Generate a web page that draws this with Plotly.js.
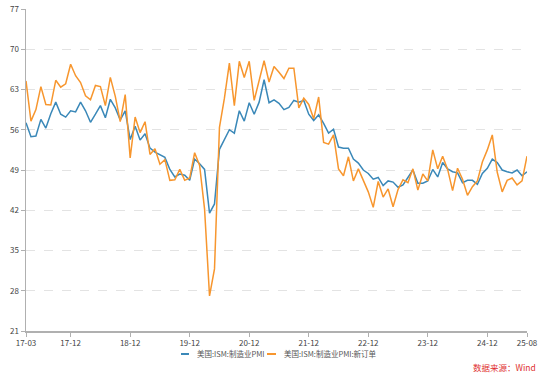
<!DOCTYPE html>
<html>
<head>
<meta charset="utf-8">
<script src="https://cdn.plot.ly/plotly-3.0.1.min.js"></script>
<style>html,body{margin:0;padding:0;background:#fff;}#chart{width:553px;height:379px;}</style>
</head>
<body>
<div id="chart"></div>
<script>
// Months 2017-03 .. 2025-08
const months = [];
for (let y = 17; y <= 25; y++) {
  for (let m = 1; m <= 12; m++) {
    if (y === 17 && m < 3) continue;
    if (y === 25 && m > 8) continue;
    months.push(y + '-' + (m < 10 ? '0' + m : '' + m));
  }
}
const tickLabels = ['17-03','17-12','18-12','19-12','20-12','21-12','22-12','23-12','24-12','25-08'];
const yTicks = [21, 28, 35, 42, 49, 56, 63, 70, 77];

const pmi = [
  57.2,54.8,54.9,57.8,56.3,58.8,60.8,58.7,58.2,59.3,
  59.1,60.8,59.3,57.3,58.7,60.2,58.1,61.3,59.8,57.7,59.3,54.3,
  56.6,54.2,55.3,52.8,52.1,51.7,51.2,49.1,47.8,48.3,48.1,47.2,
  50.9,50.1,49.1,41.5,43.1,52.6,54.2,56.0,55.4,59.3,57.5,60.7,
  58.7,60.8,64.7,60.7,61.2,60.6,59.5,59.9,61.1,60.8,61.1,58.7,
  57.6,58.6,57.1,55.4,56.1,53.0,52.8,52.8,50.9,50.2,49.0,48.4,
  47.4,47.7,46.3,47.1,46.9,46.0,46.4,47.6,49.0,46.7,46.7,47.1,
  49.1,47.8,50.3,49.2,48.7,48.5,46.8,47.2,47.2,46.5,48.4,49.3,
  50.9,50.3,49.0,48.7,48.5,49.0,48.0,48.7
];
const newOrders = [
  64.5,57.5,59.5,63.5,60.4,60.3,64.6,63.4,64.0,67.4,
  65.4,64.2,61.9,61.2,63.7,63.5,60.2,65.1,61.8,57.4,62.1,51.1,
  58.2,55.5,57.4,51.7,52.7,50.0,50.8,47.2,47.3,49.1,47.2,47.6,
  52.0,49.8,42.2,27.1,31.8,56.4,61.5,67.6,60.2,67.9,65.1,67.9,
  61.1,64.8,68.0,64.3,67.0,66.0,64.9,66.7,66.7,59.8,61.5,60.4,
  57.9,61.7,53.8,53.5,55.1,49.2,48.0,51.3,47.1,49.2,47.2,45.2,
  42.5,47.0,44.3,45.7,42.6,45.6,47.3,46.8,49.2,45.5,48.3,47.1,
  52.5,49.2,51.4,49.1,45.4,49.3,47.4,44.6,46.1,47.1,50.4,52.5,
  55.1,48.6,45.2,47.2,47.6,46.4,47.1,51.4
];
const seriesNames = ['美国:ISM:制造业PMI', '美国:ISM:制造业PMI:新订单'];
const colors = ['#3a88b8', '#f7962e'];
const sourceText = '数据来源：Wind';

const font = '"Noto Sans CJK SC", "Noto Sans", sans-serif';
const traces = [
  {x: months, y: pmi, name: seriesNames[0], type: 'scatter', mode: 'lines',
   line: {color: colors[0], width: 1.5}},
  {x: months, y: newOrders, name: seriesNames[1], type: 'scatter', mode: 'lines',
   line: {color: colors[1], width: 1.5}}
];

// custom compact legend (paper coordinates)
const legY = -0.0714;
const legendItems = [
  {x0: 0.3094, x1: 0.3253, tx: 0.3373},
  {x0: 0.4810, x1: 0.4990, tx: 0.5110}
];
const shapes = legendItems.map((it, i) => ({
  type: 'line', xref: 'paper', yref: 'paper', x0: it.x0, x1: it.x1, y0: legY, y1: legY,
  line: {color: colors[i], width: 2}
}));
const annotations = legendItems.map((it, i) => ({
  text: seriesNames[i], xref: 'paper', yref: 'paper', x: it.tx, y: legY,
  xanchor: 'left', yanchor: 'middle', showarrow: false,
  font: {family: font, size: 7.5, color: '#555'}
}));
annotations.push({text: sourceText, xref: 'paper', yref: 'paper',
  x: 1.022, y: -0.112, xanchor: 'right', yanchor: 'middle', showarrow: false,
  font: {family: font, size: 8.5, color: '#e0302f'}});

const layout = {
  width: 553, height: 379,
  margin: {l: 26, r: 26, t: 9, b: 48},
  paper_bgcolor: '#fff', plot_bgcolor: '#fff',
  font: {family: font, size: 8, color: '#444'},
  showlegend: false,
  xaxis: {type: 'category', range: [0, months.length - 1],
          tickvals: tickLabels, ticktext: tickLabels,
          showgrid: false, zeroline: false,
          showline: true, linecolor: '#b0b0b0', linewidth: 1.5,
          ticks: 'outside', ticklen: 4, tickcolor: '#b0b0b0',
          tickfont: {family: font, size: 8, color: '#444'}},
  yaxis: {range: [21, 77], tickvals: yTicks,
          showgrid: true, gridcolor: '#e3e3e3', griddash: 'dash', gridwidth: 1,
          zeroline: false, showline: true, linecolor: '#b0b0b0', linewidth: 1.5,
          ticks: 'outside', ticklen: 4, tickcolor: '#b0b0b0',
          tickfont: {family: font, size: 8, color: '#444'}},
  shapes: shapes,
  annotations: annotations
};
Plotly.newPlot('chart', traces, layout, {displayModeBar: false, staticPlot: true});
</script>
</body>
</html>
